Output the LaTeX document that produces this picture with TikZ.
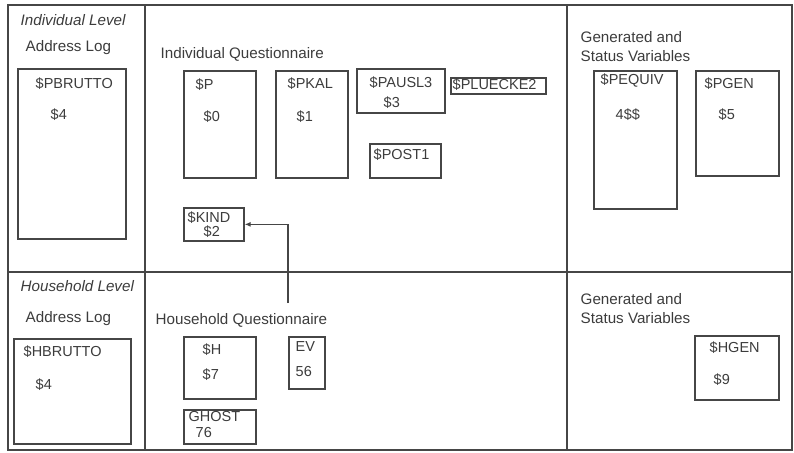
\documentclass[tikz,border=0pt]{standalone}
\usepackage{fontspec}
\setmainfont{Liberation Sans}
\usetikzlibrary{arrows.meta}
\definecolor{framegray}{RGB}{70,70,70}
\definecolor{textgray}{RGB}{60,60,60}
\tikzset{every path/.style={framegray, line width=1.4pt},
  varbox/.style={draw=framegray, line width=1.7pt, anchor=north west, inner sep=0pt},
  vartext/.style={anchor=west, inner sep=0pt, text=textgray, text height=11pt, text depth=3pt, font=\fontsize{14.5}{16}\selectfont},
  headtext/.style={vartext, font=\fontsize{15.2}{17}\selectfont},
  leveltext/.style={headtext, font=\fontsize{15.2}{17}\selectfont\itshape}}

\begin{document}
\begin{tikzpicture}[x=1pt, y=-1pt]
   \useasboundingbox (0,0) rectangle (794,452);
   % frame
   \draw[line width=2.1pt] (8,5) rectangle (792,450);
   \draw[line width=2.1pt] (145,5) -- (145,450);
   \draw[line width=2.1pt] (567,5) -- (567,450);
   \draw[line width=2.1pt] (8,272) -- (792,272);
   % individual level
   \node[leveltext] (indlevel) at (20,22) {Individual Level};
   \node[headtext] (indaddr) at (25,48) {Address Log};
   \node[varbox, minimum width=108pt, minimum height=170pt] (pbrutto) at (17,68) {};
   \node[vartext] at (35,84) {\$PBRUTTO};
   \node[vartext] at (50,115) {\$4};
   \node[headtext] (indquest) at (160,55) {Individual Questionnaire};
   \node[varbox, minimum width=72pt, minimum height=107pt] (p) at (183,70) {};
   \node[vartext] at (195,85) {\$P};
   \node[vartext] at (203,117) {\$0};
   \node[varbox, minimum width=72pt, minimum height=107pt] (pkal) at (275,70) {};
   \node[vartext] at (287,84) {\$PKAL};
   \node[vartext] at (296,117) {\$1};
   \node[varbox, minimum width=88pt, minimum height=44pt] (pausl) at (356,68) {};
   \node[vartext] at (369,83) {\$PAUSL3};
   \node[vartext] at (383,103) {\$3};
   \node[varbox, minimum width=95pt, minimum height=16pt] (pluecke) at (450,77) {};
   \node[vartext] at (452,85) {\$PLUECKE2};
   \node[varbox, minimum width=71pt, minimum height=34pt] (post) at (369,143) {};
   \node[vartext] at (373,155) {\$POST1};
   \node[varbox, minimum width=60pt, minimum height=33pt] (kind) at (183,207) {};
   \node[vartext] at (187,218) {\$KIND};
   \node[vartext] at (203,232) {\$2};
   \node[headtext] (indgen1) at (580,38) {Generated and};
   \node[headtext] (indgen2) at (580,57) {Status Variables};
   \node[varbox, minimum width=83pt, minimum height=138pt] (pequiv) at (593,70) {};
   \node[vartext] at (600,80) {\$PEQUIV};
   \node[vartext] at (615,115) {4\$\$};
   \node[varbox, minimum width=83pt, minimum height=105pt] (pgen) at (695,70) {};
   \node[vartext] at (704,84) {\$PGEN};
   \node[vartext] at (718,115) {\$5};
   % household level
   \node[leveltext] (hhlevel) at (20,287) {Household Level};
   \node[headtext] (hhaddr) at (25,318) {Address Log};
   \node[varbox, minimum width=117pt, minimum height=105pt] (hbrutto) at (13,338) {};
   \node[vartext] at (23,352) {\$HBRUTTO};
   \node[vartext] at (35,385) {\$4};
   \node[headtext] (hhquest) at (155,320) {Household Questionnaire};
   \node[varbox, minimum width=72pt, minimum height=62pt] (h) at (183,336) {};
   \node[vartext] at (202,350) {\$H};
   \node[vartext] at (202,375) {\$7};
   \node[varbox, minimum width=36pt, minimum height=52pt] (ev) at (288,336) {};
   \node[vartext] at (295,347) {EV};
   \node[vartext] at (295,372) {56};
   \node[varbox, minimum width=72pt, minimum height=34pt] (ghost) at (183,409) {};
   \node[vartext] at (188,417) {GHOST};
   \node[vartext] at (195,433) {76};
   \node[headtext] (hhgen1) at (580,300) {Generated and};
   \node[headtext] (hhgen2) at (580,319) {Status Variables};
   \node[varbox, minimum width=84pt, minimum height=64pt] (hgen) at (694,335) {};
   \node[vartext] at (709,348) {\$HGEN};
   \node[vartext] at (713,380) {\$9};
   % link
   \coordinate (evlink) at (288,303);
   \draw[line width=1.1pt, -{Latex[length=6pt,width=5pt]}] (evlink) |- (kind.east);
\end{tikzpicture}
\end{document}
